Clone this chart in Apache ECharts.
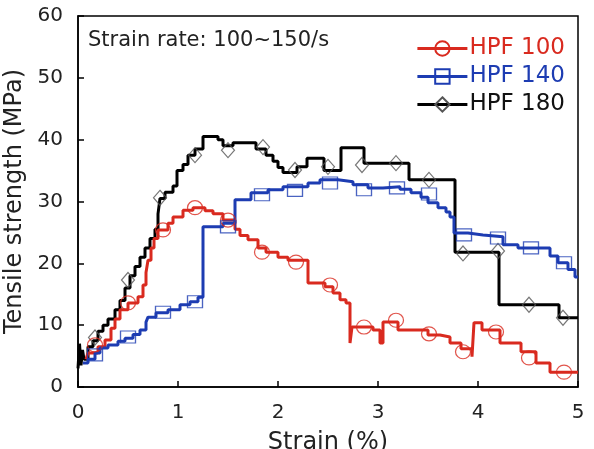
<!DOCTYPE html>
<html><head><meta charset="utf-8">
<script src="https://cdn.jsdelivr.net/npm/echarts@6/dist/echarts.min.js"></script>
<style>html,body{margin:0;padding:0;background:#fff}#c{width:594px;height:449px}</style>
</head><body><div id="c"></div>
<script>
// Step-line data: [strain start, level]
const hpf100Steps = [[0.08,4.5],[0.1,5.5],[0.2,6.5],[0.27,7.6],[0.33,9.5],[0.37,11],[0.42,12.5],[0.5,13.6],[0.6,14.6],[0.65,16.5],[0.68,18.5],[0.7,20.5],[0.73,22.5],[0.76,24],[0.8,25.4],[0.9,26.5],[0.95,27.5],[1.05,28.6],[1.15,29],[1.27,28.5],[1.35,28],[1.45,27],[1.57,25.5],[1.62,24.5],[1.7,23.8],[1.8,22.5],[1.88,21.8],[2.0,21],[2.1,20.5],[2.3,16.8],[2.47,16.2],[2.55,15.2],[2.62,14.1],[2.68,13.6],[2.72,7.1],[2.74,9.7],[2.95,9.2],[3.02,7.1],[3.05,10.5],[3.2,9.2],[3.5,8.4],[3.62,8.1],[3.72,7.1],[3.83,6.2],[3.94,4.9],[3.96,10.4],[4.04,9.2],[4.22,7.1],[4.43,5.7],[4.58,3.9],[4.72,2.4],[5.0,2.4]];
const hpf140Steps = [[0.05,3.9],[0.1,4.5],[0.17,5.5],[0.22,6.3],[0.3,6.8],[0.4,7.4],[0.47,7.9],[0.55,8.5],[0.62,9.2],[0.68,10.5],[0.7,11.3],[0.78,12],[0.9,12.5],[1.02,13.3],[1.12,13.8],[1.2,14.5],[1.25,25.9],[1.45,26.5],[1.57,30.3],[1.73,31.4],[1.9,31.9],[2.05,32.4],[2.3,33],[2.42,33.5],[2.6,33.2],[2.75,32.7],[2.9,32.2],[3.05,32.4],[3.22,32],[3.33,31.4],[3.43,30.7],[3.5,29.8],[3.6,29],[3.68,28.3],[3.72,27.5],[3.76,24.9],[3.9,24.6],[4.05,24.3],[4.25,23],[4.4,22.5],[4.72,21.2],[4.8,20.1],[4.9,19],[4.97,17.8],[5.0,17.8]];
const hpf180Steps = [[0,3],[0.015,7],[0.03,3.5],[0.045,6],[0.06,4.5],[0.1,6.5],[0.15,7.5],[0.2,9],[0.25,10],[0.3,11],[0.37,12.5],[0.42,14],[0.47,16],[0.52,18],[0.57,19.5],[0.62,21],[0.67,22.5],[0.72,24],[0.77,25.5],[0.8,28],[0.82,30.5],[0.87,31.5],[0.95,32.5],[0.99,35],[1.05,36],[1.1,37.5],[1.17,38.5],[1.25,40.5],[1.4,40],[1.45,39],[1.55,39.5],[1.78,38.5],[1.88,37.5],[1.95,36.5],[2.0,35.5],[2.05,34.7],[2.19,35.6],[2.29,37],[2.46,35],[2.63,38.7],[2.86,36.2],[3.31,33.5],[3.77,21.8],[4.21,13.3],[4.81,11.2],[5.0,11.2]];
// Marker points
const hpf100Marks = [[0.17,6.8],[0.5,13.6],[0.85,25.4],[1.17,29],[1.5,27],[1.84,21.8],[2.18,20.2],[2.52,16.5],[2.86,9.7],[3.18,10.8],[3.51,8.6],[3.85,5.7],[4.18,8.9],[4.51,4.7],[4.86,2.4]];
const hpf140Marks = [[0.17,5.2],[0.5,8.1],[0.85,12.1],[1.17,13.8],[1.5,25.9],[1.84,31.1],[2.17,31.8],[2.52,33],[2.86,31.9],[3.19,32.2],[3.51,31.2],[3.86,24.6],[4.2,24.1],[4.53,22.5],[4.86,20.1]];
const hpf180Marks = [[0.17,8],[0.5,17.3],[0.82,30.6],[1.17,37.5],[1.5,38.3],[1.85,38.8],[2.17,35.1],[2.5,35.6],[2.84,35.9],[3.18,36.2],[3.51,33.5],[3.85,21.6],[4.2,22],[4.51,13.3],[4.85,11.2]];
const seriesNames = ['HPF 100','HPF 140','HPF 180'];
const xTicks = [0,1,2,3,4,5];
const yTicks = [0,10,20,30,40,50,60];

const RED = '#d92a1f', BLUE = '#1d3cb2', BLACK = '#000000';
const FONT = 'DejaVu Sans';
const chart = echarts.init(document.getElementById('c'), null, {renderer:'canvas'});

function lineSeries(name, data, color, sym, symColor, z){
  return {name, type:'line', step:'end', data, symbol:sym, showSymbol:false,
    lineStyle:{color, width:3},
    itemStyle:{color:'rgba(255,255,255,0)', borderColor:symColor, borderWidth:1.3},
    z, animation:false};
}
function markSeries(name, data, color, sym, size, z){
  return {name, type:'scatter', data, symbol:sym, symbolSize:size, z,
    itemStyle:{color:'rgba(0,0,0,0)', borderColor:color, borderWidth:1.2}, animation:false, silent:true};
}

chart.setOption({
  backgroundColor:'#fff',
  animation:false,
  title:{text:'Strain rate: 100~150/s', left:83, top:25,
    textStyle:{fontFamily:FONT, fontSize:21, fontWeight:'normal', color:'#222'}},
  legend:{
    data:[
      {name:seriesNames[0], textStyle:{color:RED}},
      {name:seriesNames[1], textStyle:{color:BLUE}},
      {name:seriesNames[2], textStyle:{color:'#111'}}
    ],
    orient:'vertical', right:24, top:32, itemWidth:50, itemHeight:18, itemGap:5,
    lineStyle:{width:3},
    textStyle:{fontFamily:FONT, fontSize:23, padding:[0,0,0,-3]}
  },
  grid:{left:78, right:16, top:16, bottom:62, outerBoundsMode:'none', containLabel:false,
    show:true, borderColor:'#000', borderWidth:1.5, backgroundColor:'transparent'},
  xAxis:{type:'value', min:xTicks[0], max:xTicks[xTicks.length-1], interval:1,
    name:'Strain (%)', nameLocation:'middle', nameGap:44,
    nameTextStyle:{fontFamily:FONT, fontSize:24, color:'#222'},
    axisLine:{lineStyle:{color:'#000', width:1.5}},
    axisTick:{inside:true, length:6, lineStyle:{color:'#000', width:1.5}},
    axisLabel:{fontFamily:FONT, fontSize:20, color:'#222', margin:16},
    splitLine:{show:false}},
  yAxis:{type:'value', min:yTicks[0], max:yTicks[yTicks.length-1], interval:10,
    name:'Tensile strength (MPa)', nameLocation:'middle', nameGap:45,
    nameTextStyle:{fontFamily:FONT, fontSize:24, color:'#222'},
    axisLine:{lineStyle:{color:'#000', width:1.5}},
    axisTick:{inside:true, length:6, lineStyle:{color:'#000', width:1.5}},
    axisLabel:{fontFamily:FONT, fontSize:20, color:'#222', margin:15},
    splitLine:{show:false}},
  series:[
    lineSeries(seriesNames[2], hpf180Steps, BLACK, 'diamond', '#555', 2),
    lineSeries(seriesNames[0], hpf100Steps, RED, 'circle', RED, 3),
    lineSeries(seriesNames[1], hpf140Steps, BLUE, 'rect', BLUE, 4),
    markSeries('m180', hpf180Marks, '#555', 'diamond', [13,15], 5),
    markSeries('m100', hpf100Marks, RED, 'circle', [15,14], 6),
    markSeries('m140', hpf140Marks, BLUE, 'rect', [15,12], 7)
  ]
});
</script></body></html>
